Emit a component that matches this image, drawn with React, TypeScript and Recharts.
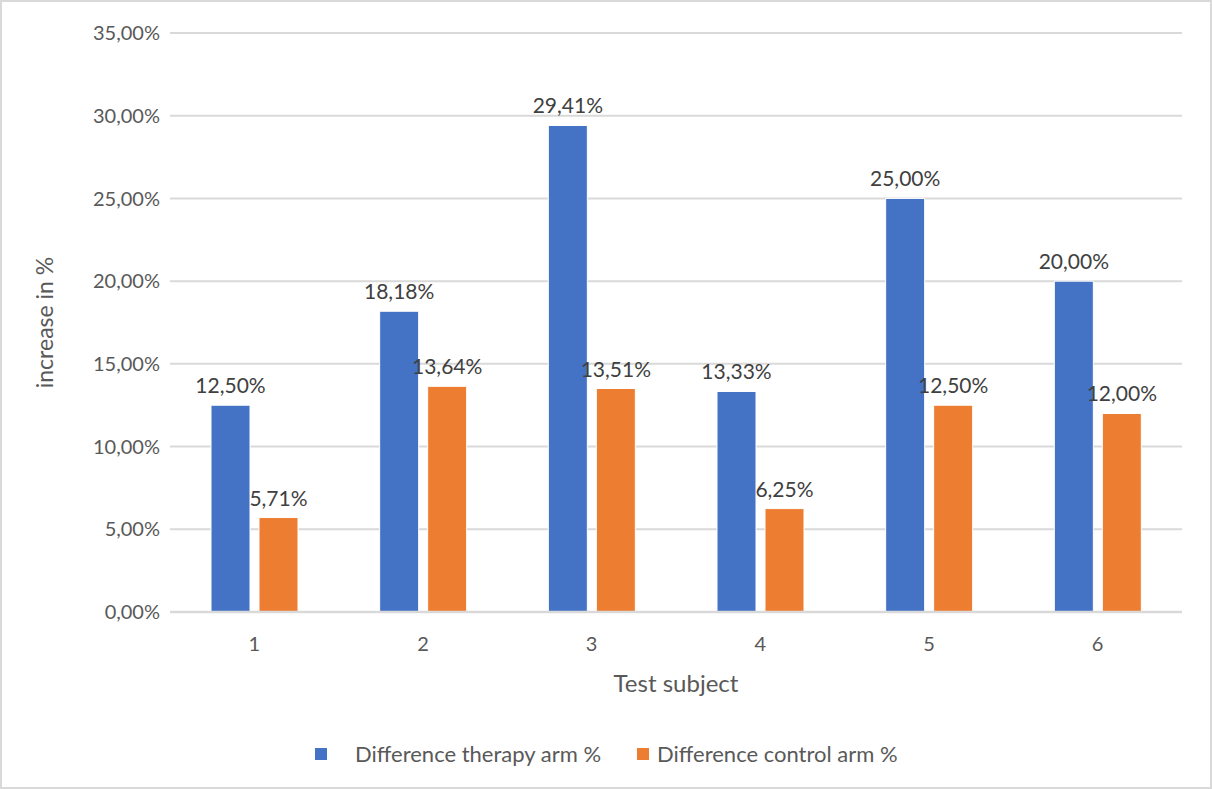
import React from 'react'
import { Bar, BarChart, CartesianGrid, LabelList, Legend, XAxis, YAxis } from 'recharts'

const subjects = ['1', '2', '3', '4', '5', '6']
const therapyArm = [12.5, 18.18, 29.41, 13.33, 25.0, 20.0]
const controlArm = [5.71, 13.64, 13.51, 6.25, 12.5, 12.0]
const yTicks = [0, 5, 10, 15, 20, 25, 30, 35]

const data = subjects.map((subject, i) => ({
    subject,
    therapy: therapyArm[i],
    control: controlArm[i]
}))

const FONT = 'Lato, "Noto Sans", sans-serif'
const BLUE = '#4472c4'
const ORANGE = '#ed7d31'
const GRID = '#d9d9d9'
const TEXT = '#595959'

const pct = (value: number) => `${value.toFixed(2).replace('.', ',')}%`

function LegendContent() {
    return (
        <div
            style={{
                display: 'flex',
                alignItems: 'center',
                fontFamily: FONT,
                fontSize: 22,
                color: TEXT,
                whiteSpace: 'nowrap'
            }}
        >
            <span style={{ width: 12, height: 12, background: BLUE, display: 'inline-block', marginLeft: 315 }} />
            <span style={{ marginLeft: 28 }}>Difference therapy arm %</span>
            <span style={{ width: 12, height: 12, background: ORANGE, display: 'inline-block', marginLeft: 36 }} />
            <span style={{ marginLeft: 8 }}>Difference control arm %</span>
        </div>
    )
}

export default function App() {
    return (
        <div
            style={{
                position: 'absolute',
                left: 0,
                top: 0,
                width: 1212,
                height: 789,
                background: '#fff',
                boxShadow: `inset 0 0 0 2px ${GRID}`
            }}
        >
            <BarChart
                width={1212}
                height={789}
                data={data}
                margin={{ top: 33, right: 30, bottom: 107, left: 0 }}
                barSize={39}
                barGap={9}
            >
                <XAxis
                    dataKey='subject'
                    height={70}
                    tickLine={false}
                    tickMargin={19}
                    axisLine={{ stroke: GRID, strokeWidth: 2.5 }}
                    tick={{ fill: TEXT, fontSize: 20, fontFamily: FONT }}
                    label={{
                        content: ({ viewBox }: any) => (
                            <text
                                x={viewBox.x + viewBox.width / 2}
                                y={viewBox.y + 80}
                                textAnchor='middle'
                                fill={TEXT}
                                fontSize={24}
                                fontFamily={FONT}
                            >
                                Test subject
                            </text>
                        )
                    }}
                />
                <YAxis
                    width={170}
                    domain={[0, 35]}
                    ticks={yTicks}
                    interval={0}
                    tickLine={false}
                    axisLine={false}
                    tickMargin={4}
                    tickFormatter={pct}
                    tick={{ fill: TEXT, fontSize: 20, fontFamily: FONT }}
                    label={{
                        content: ({ viewBox }: any) => {
                            const x = viewBox.x + 53
                            const y = viewBox.y + viewBox.height / 2
                            return (
                                <text
                                    x={x}
                                    y={y}
                                    transform={`rotate(-90 ${x} ${y})`}
                                    textAnchor='middle'
                                    fill={TEXT}
                                    fontSize={23}
                                    fontFamily={FONT}
                                >
                                    increase in %
                                </text>
                            )
                        }
                    }}
                />
                <Legend
                    verticalAlign='middle'
                    content={<LegendContent />}
                    wrapperStyle={{ top: 740, left: 0, width: 1212 }}
                />
                <Bar dataKey='therapy' name='Difference therapy arm %' fill={BLUE} stroke='#fff' strokeWidth={1} isAnimationActive={false}>
                    <LabelList
                        dataKey='therapy'
                        position='top'
                        offset={12}
                        formatter={(v: any) => pct(Number(v))}
                        style={{ fill: '#404040', fontSize: 21, fontFamily: FONT }}
                    />
                </Bar>
                <Bar dataKey='control' name='Difference control arm %' fill={ORANGE} stroke='#fff' strokeWidth={1} isAnimationActive={false}>
                    <LabelList
                        dataKey='control'
                        position='top'
                        offset={12}
                        formatter={(v: any) => pct(Number(v))}
                        style={{ fill: '#404040', fontSize: 21, fontFamily: FONT }}
                    />
                </Bar>
                {/* gridlines sit on top of the bars */}
                <CartesianGrid vertical={false} stroke={GRID} strokeWidth={2} />
            </BarChart>
        </div>
    )
}
